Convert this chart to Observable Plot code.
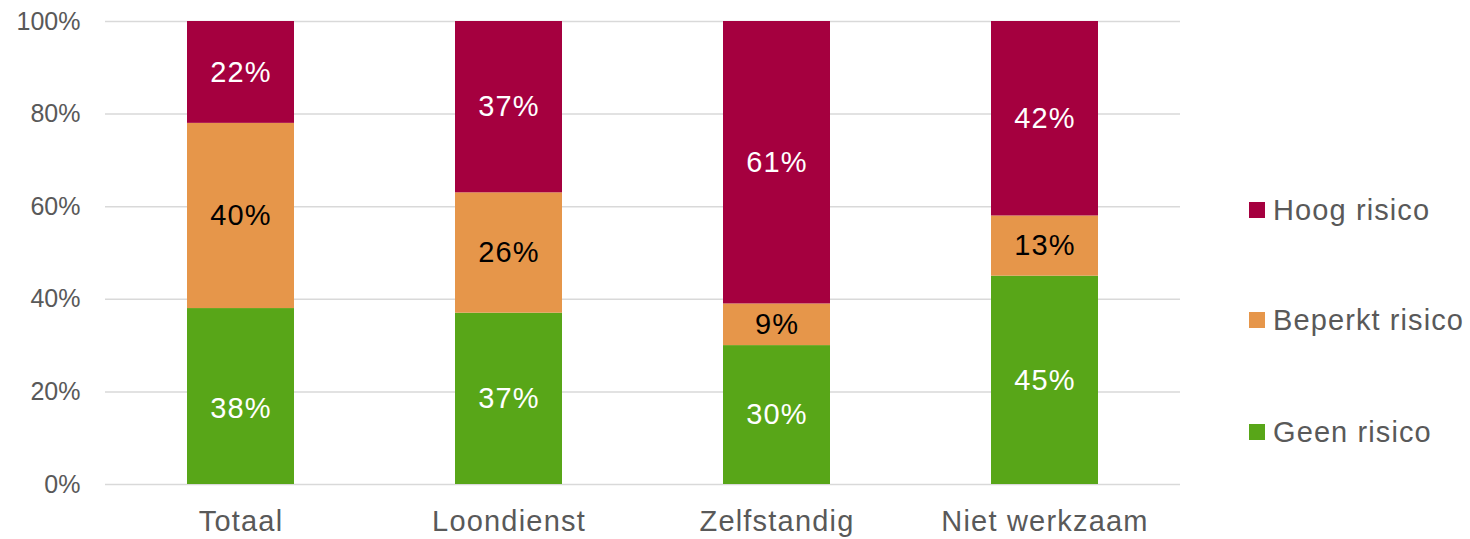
<!DOCTYPE html>
<html>
<head>
<meta charset="utf-8">
<script src="https://cdn.jsdelivr.net/npm/d3@7"></script>
<script src="https://cdn.jsdelivr.net/npm/@observablehq/plot@0.6"></script>
<style>
  body { margin: 0; background: #fff; font-family: "Liberation Sans", Arial, sans-serif; }
  #wrap { position: relative; width: 1470px; height: 539px; }
  #legend { position: absolute; left: 1249px; top: 0; }
  .li { position: absolute; left: 0; white-space: nowrap; display: flex; align-items: center; font-size: 29px; letter-spacing: 1.1px; color: #595959; }
  .sw { width: 16px; height: 16px; margin-right: 8px; }
</style>
</head>
<body>
<div id="wrap"></div>
<script>
const categories = ["Totaal", "Loondienst", "Zelfstandig", "Niet werkzaam"];
const seriesNames = ["Geen risico", "Beperkt risico", "Hoog risico"];
const seriesColors = ["#58A618", "#E6964A", "#A5003F"];
const geenRisico = [38, 37, 30, 45];
const beperktRisico = [40, 26, 9, 13];
const hoogRisico = [22, 37, 61, 42];
const yTicks = [0, 20, 40, 60, 80, 100];
const legendOrder = ["Hoog risico", "Beperkt risico", "Geen risico"];

const valuesBySeries = [geenRisico, beperktRisico, hoogRisico];
const data = [];
seriesNames.forEach((s, si) => {
  categories.forEach((c, ci) => {
    data.push({category: c, series: s, value: valuesBySeries[si][ci]});
  });
});

const isShifted = d => d.category === "Totaal" && d.series === "Geen risico";
const labelFill = d => d.series === "Beperkt risico" ? "#000000" : "#ffffff";

const chart = Plot.plot({
  width: 1470,
  height: 539,
  marginLeft: 105,
  marginRight: 290,
  marginTop: 21,
  marginBottom: 55,
  style: {fontFamily: "'Liberation Sans', Arial, sans-serif", color: "#595959", background: "white"},
  x: {domain: categories, paddingInner: 0.6, paddingOuter: 0.3, label: null},
  y: {domain: [0, 100], label: null},
  color: {domain: seriesNames, range: seriesColors},
  marks: [
    Plot.ruleY(yTicks, {stroke: "#d9d9d9", strokeWidth: 1.5}),
    Plot.barY(data, Plot.stackY({x: "category", y: "value", fill: "series", order: seriesNames})),
    Plot.text(data, Plot.stackY({
      x: "category", y: "value", z: "series", order: seriesNames,
      text: d => isShifted(d) ? "" : d.value + "%",
      fill: labelFill,
      fontSize: 29
    })),
    Plot.text(data, Plot.stackY({
      x: "category", y: "value", z: "series", order: seriesNames,
      text: d => isShifted(d) ? d.value + "%" : "",
      fill: labelFill,
      fontSize: 29,
      dy: 12
    })),
    Plot.axisY({ticks: yTicks, tickFormat: d => d + "%", tickSize: 0, tickPadding: 25, fontSize: 25, label: null}),
    Plot.axisX({tickSize: 0, tickPadding: 26, fontSize: 29, label: null})
  ]
});
chart.querySelectorAll("g[aria-label='x-axis tick label'] text").forEach(t => t.setAttribute("letter-spacing", "1.2"));
chart.querySelectorAll("g[aria-label='text'] text").forEach(t => t.setAttribute("letter-spacing", "1.1"));
const wrap = document.getElementById("wrap");
wrap.appendChild(chart);

const legend = document.createElement("div");
legend.id = "legend";
const legendY = [210, 320, 432];
legendOrder.forEach((name, i) => {
  const item = document.createElement("div");
  item.className = "li";
  item.style.top = (legendY[i] - 17) + "px";
  item.style.height = "34px";
  const sw = document.createElement("div");
  sw.className = "sw";
  sw.style.background = seriesColors[seriesNames.indexOf(name)];
  const lab = document.createElement("span");
  lab.textContent = name;
  item.appendChild(sw);
  item.appendChild(lab);
  legend.appendChild(item);
});
wrap.appendChild(legend);
</script>
</body>
</html>
